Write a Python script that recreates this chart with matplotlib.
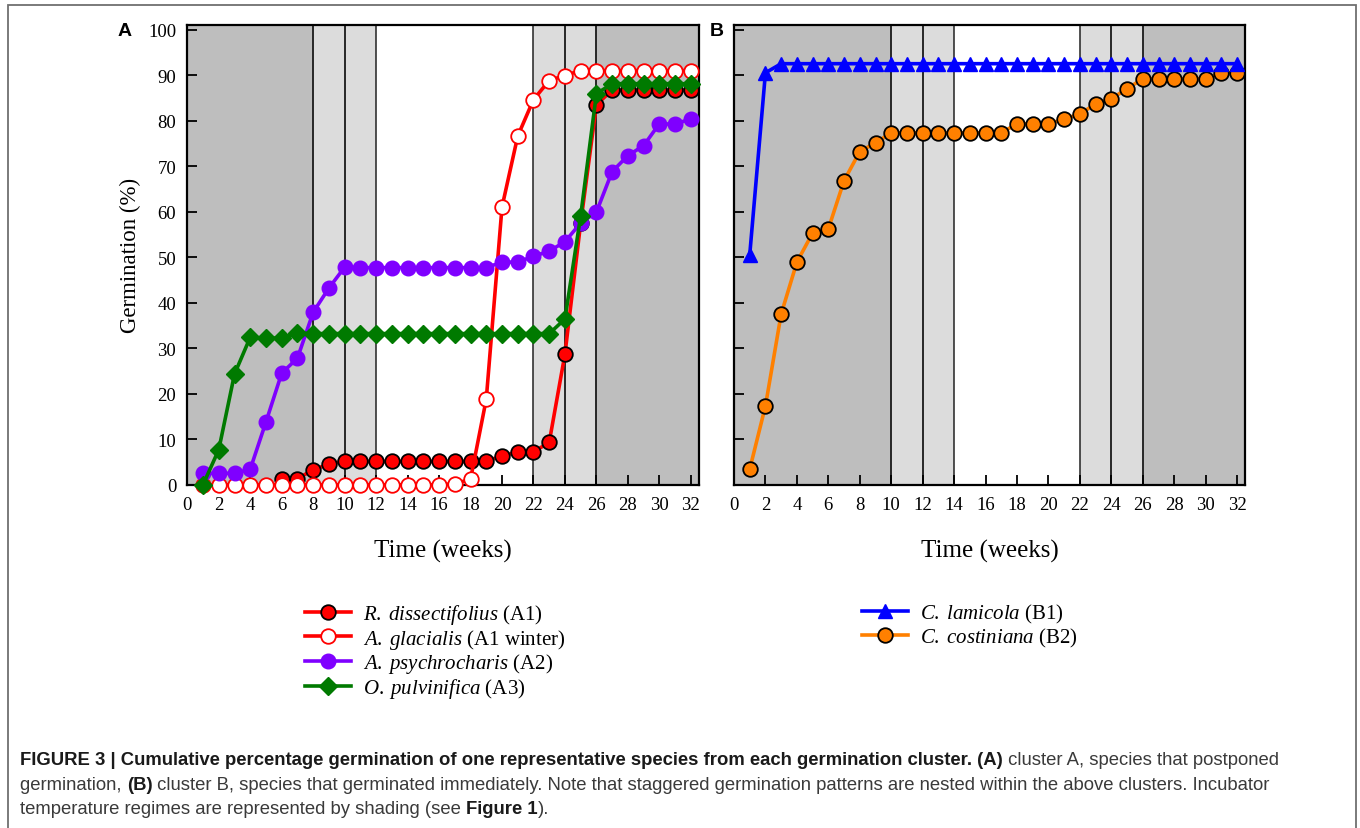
import numpy as np
import matplotlib
matplotlib.use("Agg")
import matplotlib.pyplot as plt
from matplotlib.lines import Line2D
from matplotlib.patches import Rectangle

# data (weekly cumulative germination, %)
weeks = np.arange(1, 33)
weeks_rd = np.arange(6, 33)
r_dissectifolius = [1.3, 1.3, 3.3, 4.5, 5.2, 5.1, 5.1, 5.1, 5.1, 5.1, 5.1, 5.1, 5.1, 5.2,
                    6.3, 7.2, 7.2, 9.3, 28.7, 57.5, 83.5, 86.7, 86.7, 86.7, 86.7, 86.7, 86.7]
a_glacialis = [0] * 16 + [0.2, 1.2, 18.8, 61.0, 76.6, 84.6, 88.8, 89.9] + [91.0] * 8
a_psychrocharis = [2.5, 2.5, 2.5, 3.4, 13.8, 24.5, 27.8, 37.9, 43.2, 47.8] + [47.7] * 9 + \
                  [48.9, 48.9, 50.2, 51.3, 53.4, 57.5, 59.9, 68.8, 72.3, 74.5, 79.3, 79.2, 80.4]
o_pulvinifica = [0, 7.7, 24.3, 32.4, 32.2, 32.2, 33.3] + [33.2] * 16 + [36.4, 59.1, 85.9] + [88.1] * 6
c_lamicola = [50.5, 90.5] + [92.5] * 30
c_costiniana = [3.4, 17.3, 37.5, 48.9, 55.3, 56.2, 66.8, 73.2, 75.1, 77.3] + [77.3] * 7 + \
               [79.3, 79.3, 79.2, 80.4, 81.4, 83.7, 84.8, 87.0, 89.2] + [89.2] * 4 + [90.5, 90.5]

# incubator regimes (start, end, shade)
shade_a = [(0, 8, "dark"), (8, 10, "light"), (10, 12, "light"), (22, 24, "light"),
           (24, 26, "light"), (26, 32.5, "dark")]
shade_b = [(0, 10, "dark"), (10, 12, "light"), (12, 14, "light"), (22, 24, "light"),
           (24, 26, "light"), (26, 32.5, "dark")]
shade_colors = {"dark": "#bebebe", "light": "#dcdcdc"}

serif = "Liberation Serif"
cap_font = "Liberation Sans"

plt.rcParams["font.family"] = serif
plt.rcParams["mathtext.fontset"] = "custom"
plt.rcParams["mathtext.rm"] = serif
plt.rcParams["mathtext.it"] = serif + ":italic"

W, H = 1360, 829
fig = plt.figure(figsize=(W / 100, H / 100), dpi=100)

# thin frame round the figure
fig.patches.append(Rectangle((8 / W, -0.02), 1348 / W, 1.02 - 6 / H, transform=fig.transFigure,
                             fill=False, edgecolor="#707070", lw=1.3))

ax_a = fig.add_axes([187.3 / W, 343.3 / H, 511.4 / W, 459.7 / H])
ax_b = fig.add_axes([734 / W, 343.3 / H, 511 / W, 459.7 / H])


def style_axis(ax, shades, show_ylabels):
    for x0, x1, kind in shades:
        ax.axvspan(x0, x1, color=shade_colors[kind], lw=0, zorder=0)
    for x0, x1, kind in shades:
        for xv in (x0, x1):
            if 0 < xv < 32.5:
                ax.axvline(xv, color="#222222", lw=1.1, zorder=1)
    ax.set_xlim(0, 32.5)
    ax.set_ylim(0, 101)
    ax.set_xticks(np.arange(0, 33, 2))
    ax.set_yticks(np.arange(0, 101, 10))
    ax.tick_params(direction="in", length=7, width=1.3, labelsize=13.5, pad=8,
                   top=False, right=False)
    if not show_ylabels:
        ax.set_yticklabels([])
    for s in ax.spines.values():
        s.set_linewidth(1.6)
    ax.set_xlabel("Time (weeks)", fontsize=18, labelpad=19)


style_axis(ax_a, shade_a, True)
style_axis(ax_b, shade_b, False)
ax_a.set_ylabel("Germination (%)", fontsize=16.5, labelpad=5)

lw = 2.6
ms = 10.5
ax_a.plot(weeks_rd, r_dissectifolius, color="red", lw=lw, marker="o", ms=ms,
          mfc="red", mec="black", mew=1.3, clip_on=False, zorder=3)
ax_a.plot(weeks, a_glacialis, color="red", lw=lw, marker="o", ms=ms,
          mfc="white", mec="red", mew=1.3, clip_on=False, zorder=4)
ax_a.plot(weeks, a_psychrocharis, color="#7f00ff", lw=lw, marker="o", ms=ms,
          mfc="#7f00ff", mec="#7f00ff", clip_on=False, zorder=5)
ax_a.plot(weeks, o_pulvinifica, color="#007a00", lw=lw, marker="D", ms=9.5,
          mfc="#007a00", mec="#007a00", clip_on=False, zorder=6)

ax_b.plot(weeks, c_costiniana, color="#ff8000", lw=lw, marker="o", ms=ms,
          mfc="#ff8000", mec="black", mew=1.3, clip_on=False, zorder=3)
ax_b.plot(weeks, c_lamicola, color="#0000ff", lw=lw, marker="^", ms=10.5,
          mfc="#0000ff", mec="#0000ff", clip_on=False, zorder=4)

fig.text(125 / W, 1 - 32 / H, "A", fontsize=14, fontweight="bold", family="Liberation Sans",
         ha="center", va="center")
fig.text(717 / W, 1 - 32 / H, "B", fontsize=14, fontweight="bold", family="Liberation Sans",
         ha="center", va="center")

# legends
left_handles = [
    Line2D([], [], color="red", lw=lw, marker="o", ms=ms, mfc="red", mec="black", mew=1.3),
    Line2D([], [], color="red", lw=lw, marker="o", ms=ms, mfc="white", mec="red", mew=1.3),
    Line2D([], [], color="#7f00ff", lw=lw, marker="o", ms=ms, mfc="#7f00ff", mec="#7f00ff"),
    Line2D([], [], color="#007a00", lw=lw, marker="D", ms=9.5, mfc="#007a00", mec="#007a00"),
]
left_labels = [r"$\it{R.\;dissectifolius}$ (A1)", r"$\it{A.\;glacialis}$ (A1 winter)",
               r"$\it{A.\;psychrocharis}$ (A2)", r"$\it{O.\;pulvinifica}$ (A3)"]
right_handles = [
    Line2D([], [], color="#0000ff", lw=lw, marker="^", ms=10.5, mfc="#0000ff", mec="#0000ff"),
    Line2D([], [], color="#ff8000", lw=lw, marker="o", ms=ms, mfc="#ff8000", mec="black", mew=1.3),
]
right_labels = [r"$\it{C.\;lamicola}$ (B1)", r"$\it{C.\;costiniana}$ (B2)"]

leg_kw = dict(loc="upper left", frameon=False, fontsize=15, handlelength=2.2,
              handletextpad=0.6, labelspacing=0.03, borderpad=0, borderaxespad=0, numpoints=1)
fig.legend(left_handles, left_labels, bbox_to_anchor=(305 / W, 1 - 603 / H), **leg_kw)
fig.legend(right_handles, right_labels, bbox_to_anchor=(862 / W, 1 - 603 / H), **leg_kw)

# caption with mixed bold / regular runs
caption = [
    [("FIGURE 3 | Cumulative percentage germination of one representative species from each "
      "germination cluster. (A)", "bold"), (" cluster A, species that postponed", "normal")],
    [("germination, ", "normal"), ("(B)", "bold"),
     (" cluster B, species that germinated immediately. Note that staggered germination patterns "
      "are nested within the above clusters. Incubator", "normal")],
    [("temperature regimes are represented by shading (see ", "normal"), ("Figure 1", "bold"),
     (").", "normal")],
]
line_y = [761, 786, 810]
renderer = fig.canvas.get_renderer()
for runs, yp in zip(caption, line_y):
    x = 20 / W
    for txt, weight in runs:
        t = fig.text(x, 1 - yp / H, txt, fontsize=13.35, family=cap_font, fontweight=weight,
                     color="#1a1a1a" if weight == "bold" else "#3a3a3a", ha="left", va="center")
        bb = t.get_window_extent(renderer)
        x += bb.width / W

fig.savefig("out.png", dpi=100)
